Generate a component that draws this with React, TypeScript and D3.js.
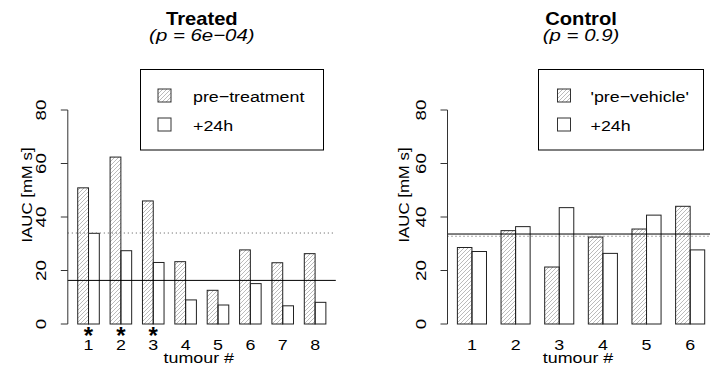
import * as d3 from 'd3';

// tumour-wise IAUC values
const treatedTumours = ['1', '2', '3', '4', '5', '6', '7', '8'];
const treatedPre = [50.9, 62.4, 46.0, 23.3, 12.6, 27.7, 22.9, 26.3];
const treatedPost = [33.9, 27.4, 23.0, 9.0, 7.1, 15.1, 6.8, 8.1];
const treatedStars = [true, true, true, false, false, false, false, false];

const controlTumours = ['1', '2', '3', '4', '5', '6'];
const controlPre = [28.6, 34.9, 21.3, 32.5, 35.5, 44.0];
const controlPost = [27.1, 36.4, 43.5, 26.4, 40.7, 27.7];

const yTicks = [0, 20, 40, 60, 80];

const FONT = 'Liberation Sans, Arial, Helvetica, sans-serif';
const SX = 1.19; // text in the picture is a bit wider than Helvetica

// text with a horizontal stretch along its own baseline
const Txt = ({ x, y, size, children, anchor = 'middle', weight = 'normal', style = 'normal', rotate = 0, sx = SX }) => (
  <g transform={`translate(${x},${y}) rotate(${rotate}) scale(${sx},1)`}>
    <text
      x={0}
      y={0}
      fontFamily={FONT}
      fontSize={size}
      fontWeight={weight}
      fontStyle={style}
      textAnchor={anchor}
      fill="#000"
    >
      {children}
    </text>
  </g>
);

const Panel = ({ id, tumours, pre, post, stars, title, subtitle, preLabel, left, right, axisLabelX, legend }) => {
  const n = tumours.length;
  // barplot units: each group = 1 space + 2 bars
  const uMin = 1 - 0.04 * (3 * n - 1);
  const uMax = 3 * n + 0.04 * (3 * n - 1);
  const x = d3.scaleLinear().domain([uMin, uMax]).range([left, right]);
  const y = d3.scaleLinear().domain([0, 80]).range([324, 110]);

  const preMean = d3.mean(pre);
  const postMean = d3.mean(post);
  const cx = (left + right) / 2;

  return (
    <g>
      <Txt x={cx} y={25} size={18} weight="bold" sx={1.12}>{title}</Txt>
      <Txt x={cx} y={41} size={17} style="italic" sx={1.2}>{subtitle}</Txt>

      {/* legend */}
      <rect x={legend.x0} y={69.5} width={legend.x1 - legend.x0} height={80.5} fill="none" stroke="#000" strokeWidth={1} />
      <rect x={legend.sw} y={89} width={13} height={13} fill={`url(#hatch-${id})`} stroke="#333" strokeWidth={1} />
      <rect x={legend.sw} y={118} width={13} height={13} fill="#fff" stroke="#333" strokeWidth={1} />
      <Txt x={legend.tx} y={101.5} size={15.5} anchor="start" sx={1.15}>{preLabel}</Txt>
      <Txt x={legend.tx} y={131} size={15.5} anchor="start" sx={1.15}>+24h</Txt>

      {/* bars */}
      {pre.map((v, i) => (
        <rect
          key={`pre${i}`}
          x={x(3 * i + 1)}
          y={y(v)}
          width={x(3 * i + 2) - x(3 * i + 1)}
          height={y(0) - y(v)}
          fill={`url(#hatch-${id})`}
          stroke="#222"
          strokeWidth={1}
        />
      ))}
      {post.map((v, i) => (
        <rect
          key={`post${i}`}
          x={x(3 * i + 2)}
          y={y(v)}
          width={x(3 * i + 3) - x(3 * i + 2)}
          height={y(0) - y(v)}
          fill="none"
          stroke="#222"
          strokeWidth={1}
        />
      ))}

      {/* group means */}
      <line x1={left} x2={right} y1={y(preMean)} y2={y(preMean)} stroke="#555" strokeWidth={1} strokeDasharray="1,3" />
      <line x1={left} x2={right} y1={y(postMean)} y2={y(postMean)} stroke="#000" strokeWidth={1} />

      {/* y axis */}
      <line x1={left} x2={left} y1={y(0)} y2={y(80)} stroke="#333" strokeWidth={1} />
      {yTicks.map((t) => (
        <g key={t}>
          <line x1={left - 7} x2={left} y1={y(t)} y2={y(t)} stroke="#333" strokeWidth={1} />
          <Txt x={left - 22} y={y(t)} size={15} rotate={-90} sx={1.25}>{String(t)}</Txt>
        </g>
      ))}
      <Txt x={axisLabelX} y={195} size={15} rotate={-90} sx={1.12}>IAUC [mM s]</Txt>

      {/* x labels */}
      {tumours.map((t, i) => (
        <Txt key={t} x={x(3 * i + 2)} y={350} size={15}>{t}</Txt>
      ))}
      {stars &&
        stars.map((s, i) =>
          s ? (
            <text key={`s${i}`} x={x(3 * i + 2)} y={344} fontFamily={FONT} fontSize={24} fontWeight="bold" textAnchor="middle">
              *
            </text>
          ) : null
        )}
      <Txt x={cx - 3} y={363} size={15}>tumour #</Txt>
    </g>
  );
};

const App = () => (
  <svg width={710} height={366} style={{ position: 'absolute', left: 0, top: 0, background: '#fff' }}>
    <defs>
      {['t', 'c'].map((id) => (
        <pattern key={id} id={`hatch-${id}`} patternUnits="userSpaceOnUse" width={4} height={4}>
          <path d="M-1,1 l2,-2 M0,4 l4,-4 M3,5 l2,-2" stroke="#aaa" strokeWidth={0.8} />
        </pattern>
      ))}
    </defs>
    <rect width={710} height={366} fill="#fff" />
    <Panel
      id="t"
      tumours={treatedTumours}
      pre={treatedPre}
      post={treatedPost}
      stars={treatedStars}
      title="Treated"
      subtitle="(p = 6e−04)"
      preLabel="pre−treatment"
      left={67.8}
      right={335.8}
      axisLabelX={32}
      legend={{ x0: 140.5, x1: 323.5, sw: 158, tx: 193 }}
    />
    <Panel
      id="c"
      tumours={controlTumours}
      pre={controlPre}
      post={controlPost}
      stars={null}
      title="Control"
      subtitle="(p = 0.9)"
      preLabel="'pre−vehicle'"
      left={447.5}
      right={714.6}
      axisLabelX={409}
      legend={{ x0: 538.5, x1: 703.5, sw: 557.5, tx: 590.5 }}
    />
  </svg>
);

export default App;
